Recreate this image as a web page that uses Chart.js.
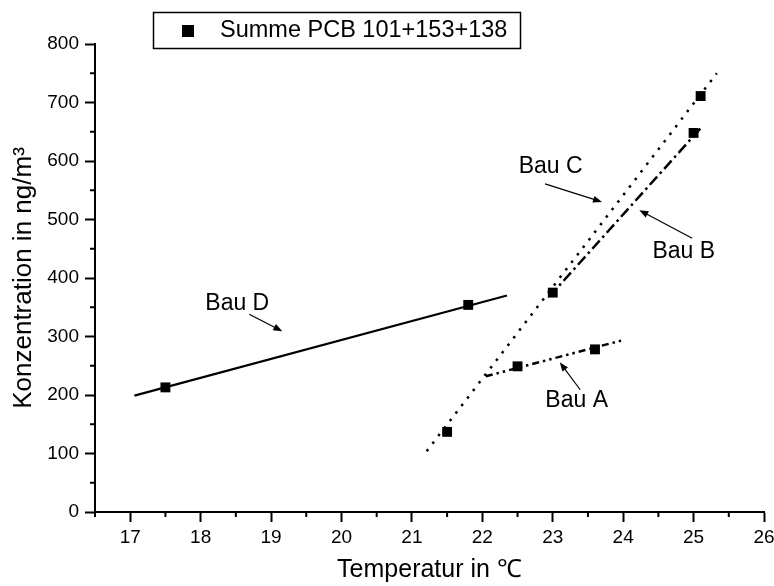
<!DOCTYPE html>
<html>
<head>
<meta charset="utf-8">
<script src="https://cdn.jsdelivr.net/npm/chart.js@4.4.0/dist/chart.umd.min.js"></script>
<style>
  html, body { margin: 0; padding: 0; background: #fff; }
  .wrap-chart { width: 774px; height: 586px; }
</style>
</head>
<body>
<div class="wrap-chart"><canvas width="774" height="586"></canvas></div>
<script>
// measured points
const temps = [17.5, 21.8, 21.5, 22.5, 23.0, 23.6, 25.0, 25.1];
const concs = [213, 354, 137, 249, 375, 278, 648, 711];

// fit lines (start, end)
const bauDx = [17.06, 22.35], bauDy = [199, 370];
const bauAx = [22.05, 23.97], bauAy = [232, 293];
const bauBx = [22.95, 25.13], bauBy = [368, 660];
const bauCx = [21.21, 25.33], bauCy = [104, 750];

const xTicks = [17, 18, 19, 20, 21, 22, 23, 24, 25, 26];
const xMinor = [16.5, 17.5, 18.5, 19.5, 20.5, 21.5, 22.5, 23.5, 24.5, 25.5];
const yTicks = [0, 100, 200, 300, 400, 500, 600, 700, 800];
const yMinor = [50, 150, 250, 350, 450, 550, 650, 750];

const legendLabel = 'Summe PCB 101+153+138';
const FONT = '"Liberation Sans", Arial, Helvetica, sans-serif';

const pairs = (xs, ys) => xs.map((x, i) => ({x: x, y: ys[i]}));

const fitLine = (label, xs, ys, dash, width) => ({
    label: label,
    data: pairs(xs, ys),
    showLine: true,
    pointRadius: 0,
    borderColor: '#000',
    borderWidth: width,
    borderDash: dash,
    borderCapStyle: 'butt',
    backgroundColor: 'transparent'
});

// text label + arrow, in data units
const notes = [
    {text: 'Bau D', tx: 18.52, ty: 356, from: [18.69, 338], to: [19.16, 309]},
    {text: 'Bau C', tx: 22.97, ty: 590, from: [22.89, 561], to: [23.70, 530]},
    {text: 'Bau B', tx: 24.86, ty: 445, from: [24.98, 468], to: [24.23, 516]},
    {text: 'Bau A', tx: 23.34, ty: 191, from: [23.39, 209], to: [23.10, 256]}
];

const extras = {
    id: 'extras',
    afterDraw(chart) {
        const ctx = chart.ctx;
        const xs = chart.scales.x, ys = chart.scales.y;
        const area = chart.chartArea;
        ctx.save();
        ctx.strokeStyle = '#000';
        ctx.fillStyle = '#000';
        // minor ticks
        ctx.lineWidth = 2;
        ctx.beginPath();
        xMinor.forEach(v => {
            const px = xs.getPixelForValue(v);
            ctx.moveTo(px, area.bottom);
            ctx.lineTo(px, area.bottom + 5);
        });
        yMinor.forEach(v => {
            const py = ys.getPixelForValue(v);
            ctx.moveTo(area.left - 5, py);
            ctx.lineTo(area.left, py);
        });
        ctx.stroke();

        // notes with arrows
        ctx.font = '23px ' + FONT;
        ctx.textAlign = 'center';
        ctx.textBaseline = 'middle';
        ctx.lineWidth = 1.2;
        notes.forEach(n => {
            ctx.fillText(n.text, xs.getPixelForValue(n.tx), ys.getPixelForValue(n.ty));
            const x0 = xs.getPixelForValue(n.from[0]), y0 = ys.getPixelForValue(n.from[1]);
            const x1 = xs.getPixelForValue(n.to[0]), y1 = ys.getPixelForValue(n.to[1]);
            const a = Math.atan2(y1 - y0, x1 - x0);
            ctx.beginPath();
            ctx.moveTo(x0, y0);
            ctx.lineTo(x1 - 6 * Math.cos(a), y1 - 6 * Math.sin(a));
            ctx.stroke();
            ctx.beginPath();
            ctx.moveTo(x1, y1);
            ctx.lineTo(x1 - 9 * Math.cos(a) + 3.5 * Math.sin(a), y1 - 9 * Math.sin(a) - 3.5 * Math.cos(a));
            ctx.lineTo(x1 - 9 * Math.cos(a) - 3.5 * Math.sin(a), y1 - 9 * Math.sin(a) + 3.5 * Math.cos(a));
            ctx.closePath();
            ctx.fill();
        });

        // legend box
        ctx.lineWidth = 1.5;
        ctx.strokeRect(153.5, 12.5, 367, 36);
        ctx.fillRect(182, 25, 12, 12);
        ctx.textAlign = 'left';
        ctx.font = '23.5px ' + FONT;
        ctx.fillText(chart.data.datasets[0].label, 220, 31);
        ctx.restore();
    }
};

const ctx = document.querySelector('.wrap-chart canvas').getContext('2d');
const chart = new Chart(ctx, {
    type: 'scatter',
    data: {
        datasets: [{
            label: legendLabel,
            data: pairs(temps, concs),
            pointStyle: 'rect',
            pointRadius: 7,
            pointBorderWidth: 0,
            backgroundColor: '#000',
            borderColor: '#000',
            showLine: false
        },
        fitLine('Bau D', bauDx, bauDy, [], 2.2),
        fitLine('Bau A', bauAx, bauAy, [7, 4, 2.5, 4, 2.5, 4], 2.5),
        fitLine('Bau B', bauBx, bauBy, [11, 4, 2.5, 4], 2.5),
        fitLine('Bau C', bauCx, bauCy, [2.5, 7], 2.5)]
    },
    options: {
        responsive: false,
        animation: false,
        layout: {padding: {top: 44, right: 10, left: 0, bottom: 0}},
        plugins: {legend: {display: false}, tooltip: {enabled: false}},
        scales: {
            x: {
                type: 'linear',
                min: 16.5,
                max: 26,
                afterBuildTicks: s => { s.ticks = xTicks.map(v => ({value: v})); },
                afterFit: s => { s.height = 74; s.paddingLeft = 0; s.paddingRight = 0; },
                grid: {drawOnChartArea: false, tickLength: 10, tickWidth: 2, tickColor: '#000'},
                border: {color: '#000', width: 2},
                ticks: {color: '#000', padding: 4, font: {family: FONT, size: 19}},
                title: {display: true, text: 'Temperatur in ℃', color: '#000',
                        font: {family: FONT, size: 25}, padding: {top: 0, bottom: 1}}
            },
            y: {
                min: 0,
                max: 800,
                afterBuildTicks: s => { s.ticks = yTicks.map(v => ({value: v})); },
                afterFit: s => { s.width = 95; s.paddingTop = 0; s.paddingBottom = 0; },
                grid: {drawOnChartArea: false, tickLength: 10, tickWidth: 2, tickColor: '#000'},
                border: {color: '#000', width: 2},
                ticks: {color: '#000', padding: 6, font: {family: FONT, size: 19}},
                title: {display: true, text: 'Konzentration in ng/m³', color: '#000',
                        font: {family: FONT, size: 26}, padding: {top: 8, bottom: 0}}
            }
        }
    },
    plugins: [extras]
});
</script>
</body>
</html>
